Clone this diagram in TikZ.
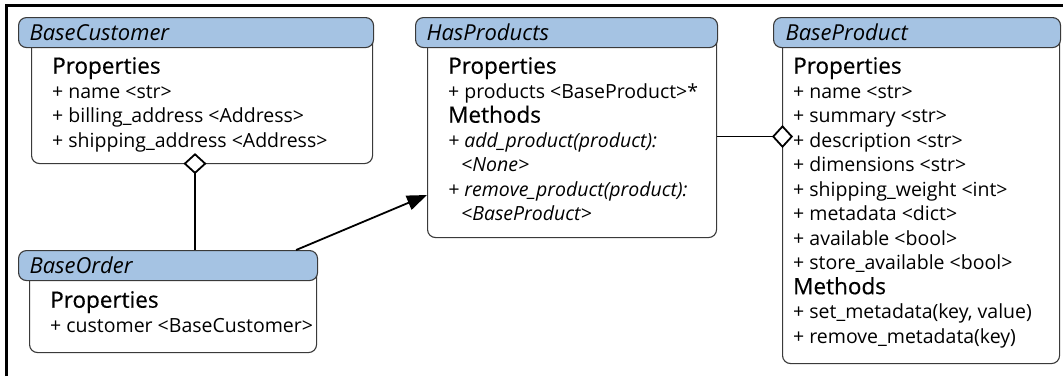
\documentclass[tikz,border=0pt]{standalone}
\usepackage{fontspec}
\setmainfont{Open Sans}
\usetikzlibrary{arrows.meta,calc}
\definecolor{headblue}{HTML}{A5C3E3}
\definecolor{edge}{HTML}{3A3A3A}
\newcommand\secthead[1]{{\fontsize{22.5}{24.5}\selectfont\addfontfeature{FakeBold=0.4}#1}}

\begin{document}
\begin{tikzpicture}[x=1pt,y=-1pt,
  classhead/.style={draw=edge,fill=headblue,line width=1.1,rounded corners=8,
    anchor=north west,minimum height=30,inner xsep=11,inner ysep=0,
    text width=#1,align=left,font=\fontsize{22}{24}\selectfont\itshape},
  classbody/.style 2 args={draw=edge,fill=white,line width=1.1,rounded corners=8,
    anchor=north west,inner sep=0,minimum width=#1,minimum height=#2},
  members/.style={anchor=north west,inner sep=0,align=left,
    font=\fontsize{19.5}{24.5}\selectfont},
  aggr/.style={line width=1.8,shorten >=-11pt,
    -{Diamond[fill=white,length=21pt,width=23pt,line width=1.8pt]}},
  assoc/.style={line width=1.8,-{Triangle[length=20pt,width=15pt]}}]
  \useasboundingbox (0,0) rectangle (1063,376);

  % bodies
  \node[classbody={341}{128}] (custbody) at (31,35) {};
  \node[classbody={287}{84}] (orderbody) at (29,268) {};
  \node[classbody={289}{202}] (hasbody) at (427,35) {};
  \node[classbody={277}{328}] (prodbody) at (782,35) {};

  % headers
  \node[classhead=333] (custhead) at (18,17) {BaseCustomer};
  \node[classhead=277] (orderhead) at (18,250) {BaseOrder};
  \node[classhead=280] (hashead) at (415,17) {HasProducts};
  \node[classhead=263,inner xsep=12] (prodhead) at (773,17) {BaseProduct};

  % members
  \node[members] (custtext) at (52,57) {\secthead{Properties}\\
    + name <str>\\
    + billing\_address <Address>\\
    + shipping\_address <Address>};
  \node[members] (ordertext) at (50,291) {\secthead{Properties}\\
    + customer <BaseCustomer>};
  \node[members] (hastext) at (448,57) {\secthead{Properties}\\
    + products <BaseProduct>*\\
    \secthead{Methods}\\
    \textit{+ add\_product(product):}\\
    \textit{\hspace*{13pt}<None>}\\
    \textit{+ remove\_product(product):}\\
    \textit{\hspace*{13pt}<BaseProduct>}};
  \node[members] (prodtext) at (793,57) {\secthead{Properties}\\
    + name <str>\\
    + summary <str>\\
    + description <str>\\
    + dimensions <str>\\
    + shipping\_weight <int>\\
    + metadata <dict>\\
    + available <bool>\\
    + store\_available <bool>\\
    \secthead{Methods}\\
    + set\_metadata(key, value)\\
    + remove\_metadata(key)};

  % connectors
  \coordinate (custagg) at ($(custbody.south west)+(164,0)$);
  \coordinate (orderout) at ($(orderhead.north east)+(-22,0)$);
  \coordinate (hasin) at ($(hasbody.north west)+(0,160)$);
  \draw[aggr] (orderhead.north -| custagg) -- (custagg);
  \draw[aggr] (hasbody.east) -- (hasbody.east -| prodbody.west);
  \draw[assoc] (orderout) -- (hasin);

  % frame
  \draw[line width=3] (6.5,376) |- (1063,5.5);
\end{tikzpicture}
\end{document}
